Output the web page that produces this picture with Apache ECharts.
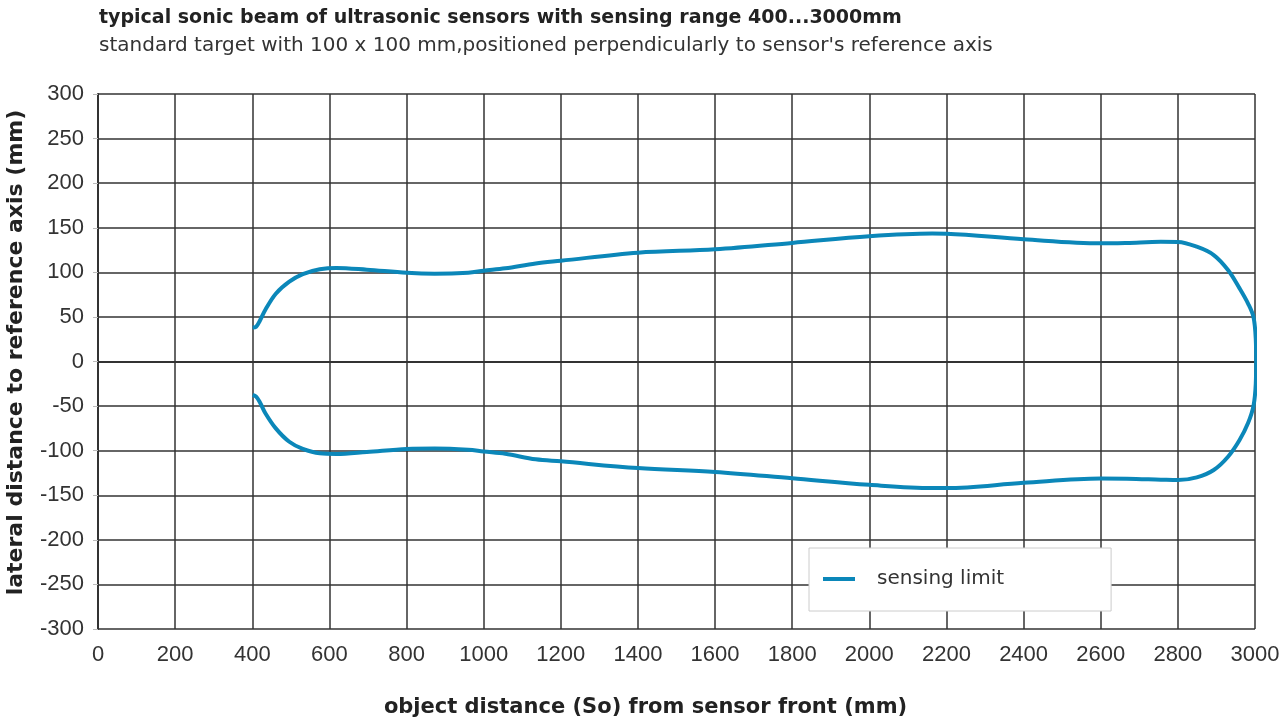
<!DOCTYPE html>
<html>
<head>
<meta charset="utf-8">
<title>sonic beam</title>
<script src="https://cdn.jsdelivr.net/npm/echarts@6/dist/echarts.min.js"></script>
<style>
  html, body { margin: 0; padding: 0; background: #fff; }
  #main { width: 1280px; height: 722px; }
</style>
</head>
<body>
<div id="main"></div>
<script>
// upper edge of the beam, left to right (mm)
var upperDist = [401, 410, 420, 434, 461, 496, 531, 575, 618, 697, 801, 873, 960, 1000, 1056, 1135, 1200, 1400, 1600, 1800, 2000, 2163, 2200, 2400, 2600, 2668, 2756, 2800, 2849, 2893, 2930, 2960, 2982, 2996];
var upperLat  = [38, 39, 46, 58, 76, 89.5, 98, 103.4, 105, 103, 99.5, 98.5, 99.6, 101.8, 104.5, 110, 113, 122, 125.8, 133, 140.5, 143.5, 143.3, 137, 132.5, 133, 134.2, 134, 128.7, 119.4, 102.6, 82, 65, 50];
// far end of the beam, top to bottom
var endDist = [3002, 3003, 3002];
var endLat  = [25, 0, -25];
// lower edge of the beam, right to left
var lowerDist = [2996, 2982, 2960, 2930, 2893, 2849, 2800, 2756, 2668, 2600, 2400, 2200, 2163, 2000, 1800, 1600, 1400, 1200, 1135, 1056, 1000, 960, 873, 801, 697, 618, 575, 531, 496, 461, 434, 420, 410, 401];
var lowerLat  = [-50, -69, -88, -106.8, -121.7, -130, -133, -132.5, -131.4, -131.2, -136, -142, -142, -138.3, -131, -123.8, -119.5, -112, -109.7, -103.5, -101, -99, -97.6, -98.1, -101.5, -103.7, -103, -98, -90, -75, -58, -46, -39.5, -37.6];

var seriesName = 'sensing limit';
var lineColor = '#0b87b9';

function buildData(){
	var pts = [];
	var i;
	for (i = 0; i < upperDist.length; i++) pts.push([upperDist[i], upperLat[i]]);
	for (i = 0; i < endDist.length; i++) pts.push([endDist[i], endLat[i]]);
	for (i = 0; i < lowerDist.length; i++) pts.push([lowerDist[i], lowerLat[i]]);
	return pts;
}

// plain numbers, no thousands separator
function plain(v){
	return String(v);
}

var myChart = echarts.init(document.getElementById('main'));

var font = 'DejaVu Sans';
var tickFont = 'Liberation Sans';
var gridColor = '#333';

var option = {
	animation: false,
	backgroundColor: '#fff',
	title: [{
		text: 'typical sonic beam of ultrasonic sensors with sensing range 400...3000mm',
		left: 94, top: 4,
		textStyle: { fontFamily: font, fontWeight: 'bold', fontSize: 19, color: '#222' }
	}, {
		text: 'standard target with 100 x 100 mm,positioned perpendicularly to sensor\'s reference axis',
		left: 94, top: 31,
		textStyle: { fontFamily: font, fontWeight: 'normal', fontSize: 20, color: '#333' }
	}],
	legend: {
		data: [{ name: seriesName, icon: 'rect' }],
		left: 809, top: 548,
		orient: 'vertical',
		itemWidth: 32, itemHeight: 4,
		padding: [21, 107, 22, 14],
		backgroundColor: '#fff',
		borderColor: '#ccc',
		borderWidth: 1,
		textStyle: { fontFamily: font, fontSize: 20, color: '#333', padding: [0, 0, 0, 17] }
	},
	grid: { left: 98, right: 25, top: 94, bottom: 93, containLabel: false, outerBoundsMode: 'none' },
	xAxis: {
		type: 'value',
		min: 0, max: 3000, interval: 200,
		name: 'object distance (So) from sensor front (mm)',
		nameLocation: 'middle',
		nameGap: 68,
		nameTextStyle: { fontFamily: font, fontWeight: 'bold', fontSize: 21, color: '#222', padding: [0, 62, 0, 0] },
		axisLine: { show: true, lineStyle: { color: gridColor, width: 2 } },
		axisTick: { show: false },
		axisLabel: { fontFamily: tickFont, fontSize: 22, color: '#333', margin: 15, formatter: plain },
		splitLine: { show: true, lineStyle: { color: gridColor, width: 1.5 } }
	},
	yAxis: {
		type: 'value',
		min: -300, max: 300, interval: 50,
		name: 'lateral distance to reference axis (mm)',
		nameLocation: 'middle',
		nameGap: 71,
		nameTextStyle: { fontFamily: font, fontWeight: 'bold', fontSize: 22, color: '#222', padding: [0, 0, 0, 18] },
		axisLine: { show: true, lineStyle: { color: gridColor, width: 2 } },
		axisTick: { show: true, inside: false, length: 5, lineStyle: { color: '#bbb', width: 1 } },
		axisLabel: { fontFamily: tickFont, fontSize: 22, color: '#333', margin: 14, lineHeight: 26, verticalAlign: 'middle', padding: [5, 0, 0, 0], formatter: plain },
		splitLine: { show: true, lineStyle: { color: gridColor, width: 1.5 } }
	},
	series: [{
		name: seriesName,
		type: 'line',
		data: buildData(),
		smooth: 0.35,
		showSymbol: false,
		symbol: 'none',
		lineStyle: { color: lineColor, width: 4 },
		itemStyle: { color: lineColor }
	}]
};

myChart.setOption(option);
</script>
</body>
</html>
